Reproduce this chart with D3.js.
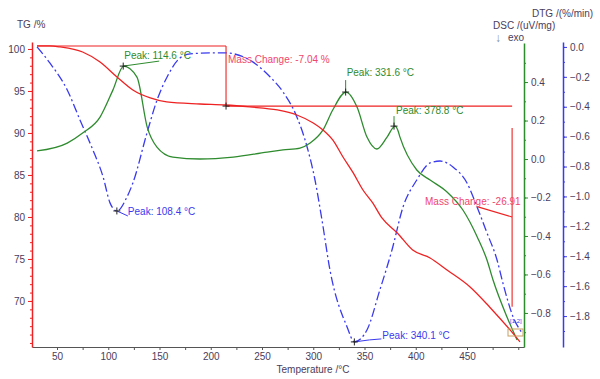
<!DOCTYPE html>
<html>
<head>
<meta charset="utf-8">
<script src="https://cdn.jsdelivr.net/npm/d3@7"></script>
<style>
  body { margin: 0; background: #fff; }
  svg { display: block; font-family: "Liberation Sans", Arial, sans-serif; }
</style>
</head>
<body>
<div id="chart"></div>
<script>
// temperature (°C) and values
const tgTemp = [30.5, 43, 53, 75, 92, 108.5, 124, 141, 157, 189.5, 214, 238, 265, 284, 300, 309.5, 319, 329, 339, 348.5, 358, 367, 382, 397, 414, 430.5, 453, 472, 492, 501.7];
const tgVal  = [100.36, 100.36, 100.24, 99.64, 98.45, 96.67, 95.12, 94.17, 93.69, 93.45, 93.33, 93.1, 92.74, 92.14, 91.19, 90.36, 89.17, 87.14, 85.24, 83.21, 81.67, 79.88, 78.1, 76.07, 75.12, 73.69, 71.67, 69.29, 66.55, 65.12];

const dscTemp = [30.5, 60, 75, 92, 104.5, 115, 128, 138, 147.5, 163, 189.5, 222, 255, 270.5, 287, 297, 309.5, 319, 332, 342.7, 352.4, 362, 372, 379.8, 382.5, 384.6, 401, 414, 430.5, 446, 460, 469.5, 475.4, 489, 498.8];
const dscVal  = [0.042, 0.083, 0.135, 0.218, 0.358, 0.483, 0.426, 0.166, 0.062, 0.01, 0.0, 0.01, 0.036, 0.047, 0.057, 0.083, 0.151, 0.255, 0.348, 0.27, 0.114, 0.052, 0.114, 0.171, 0.15, 0.114, -0.057, -0.109, -0.171, -0.265, -0.405, -0.525, -0.629, -0.821, -0.94];

const dtgTemp = [30.5, 43, 60, 72.4, 85, 95, 101.7, 108.4, 118.3, 124, 137.8, 147.6, 157.4, 170, 180, 199, 214, 241, 258, 270.5, 284, 294, 301.7, 308.5, 316.3, 333, 340.1, 352.4, 365, 376.8, 387.6, 401, 414, 423.7, 436.3, 450, 459.8, 469.5, 479.3, 485, 495, 503.7];
const dtgVal  = [0.0, -0.107, -0.288, -0.488, -0.689, -0.87, -1.043, -1.097, -1.003, -0.91, -0.575, -0.355, -0.201, -0.074, -0.047, -0.04, -0.04, -0.1, -0.201, -0.301, -0.468, -0.669, -0.89, -1.157, -1.492, -1.873, -1.973, -1.893, -1.625, -1.358, -1.07, -0.89, -0.776, -0.763, -0.803, -0.91, -1.07, -1.244, -1.425, -1.579, -1.806, -1.913];

const xTicks = [50, 100, 150, 200, 250, 300, 350, 400, 450];
const tgTicks = [70, 75, 80, 85, 90, 95, 100];
const dscTicks = [-0.8, -0.6, -0.4, -0.2, 0.0, 0.2, 0.4];
const dtgTicks = [-1.8, -1.6, -1.4, -1.2, -1.0, -0.8, -0.6, -0.4, -0.2, 0.0];

// peak annotations: label, temperature, which curve, value at marker
const peakText = ["Peak: 114.6 °C", "Peak: 108.4 °C", "Peak: 331.6 °C", "Peak: 378.8 °C", "Peak: 340.1 °C"];
const peakTemp = [114.6, 108.4, 331.6, 378.8, 340.1];
const peakCurve = ["dsc", "dtg", "dsc", "dsc", "dtg"];
const peakVal = [0.483, -1.097, 0.348, 0.171, -1.973];

const massText = ["Mass Change: -7.04 %", "Mass Change: -26.91"];

const W = 600, H = 379;
const red = "#ee2222", green = "#2e8b2e", blue = "#3a3aee", txt = "#4a3d5c", pink = "#f0466e";

const svg = d3.select("#chart").append("svg").attr("width", W).attr("height", H);

const x = d3.scaleLinear().domain([25.6, 505.6]).range([32, 524]);
const yTG = d3.scaleLinear().domain([64.52, 100.83]).range([347, 42]);
const yDSC = d3.scaleLinear().domain([-0.977, 0.603]).range([347, 43]);
const yDTG = d3.scaleLinear().domain([-2.007, 0.033]).range([347, 42]);
const yOf = {dsc: yDSC, dtg: yDTG};

function styleAxis(g, color) {
    g.select(".domain").attr("stroke", color).attr("stroke-width", 1.5);
    g.selectAll(".tick line").attr("stroke", color);
    g.selectAll(".tick text").attr("fill", txt).attr("font-size", 10);
}

// x axis
const gx = svg.append("g").attr("transform", "translate(0,347)")
    .call(d3.axisBottom(x).tickValues(d3.range(50, 501, 25)).tickSize(3).tickSizeOuter(0)
        .tickFormat(d => xTicks.includes(d) ? d : ""));
styleAxis(gx, "#555");
gx.select(".domain").attr("stroke-width", 1.2);
gx.selectAll(".tick text").attr("dy", "0.72em");

// TG axis (left)
svg.append("g").attr("transform", "translate(32,0)")
    .call(d3.axisLeft(yTG).tickValues(d3.range(65, 101, 1)).tickSize(2).tickFormat(""))
    .call(g => g.selectAll(".tick line").attr("stroke", red))
    .call(g => g.select(".domain").remove());
const gtg = svg.append("g").attr("transform", "translate(32,0)")
    .call(d3.axisLeft(yTG).tickValues(tgTicks).tickSize(4).tickSizeOuter(0));
styleAxis(gtg, red);

// DSC axis (right, green)
svg.append("g").attr("transform", "translate(524,0)")
    .call(d3.axisRight(yDSC).tickValues(d3.range(-9, 6).map(d => d / 10)).tickSize(2).tickFormat(""))
    .call(g => g.selectAll(".tick line").attr("stroke", green))
    .call(g => g.select(".domain").remove());
const gdsc = svg.append("g").attr("transform", "translate(524,0)")
    .call(d3.axisRight(yDSC).tickValues(dscTicks).tickSize(4).tickSizeOuter(0).tickFormat(d3.format(".1f")));
styleAxis(gdsc, green);

// DTG axis (right, blue)
svg.append("g").attr("transform", "translate(563,0)")
    .call(d3.axisRight(yDTG).tickValues(d3.range(-19, 1).map(d => d / 10)).tickSize(2).tickFormat(""))
    .call(g => g.selectAll(".tick line").attr("stroke", blue))
    .call(g => g.select(".domain").remove());
const gdtg = svg.append("g").attr("transform", "translate(563,0)")
    .call(d3.axisRight(yDTG).tickValues(dtgTicks).tickSize(4).tickSizeOuter(0).tickFormat(d3.format(".1f")));
styleAxis(gdtg, blue);

// axis titles
const title = (t, px, py, anchor) => svg.append("text").attr("x", px).attr("y", py)
    .attr("fill", txt).attr("font-size", 10).attr("text-anchor", anchor || "start").text(t);
title("TG /%", 17, 28);
title("DTG /(%/min)", 532, 17);
title("DSC /(uV/mg)", 493, 29);
title("exo", 508, 41);
svg.append("text").attr("x", 495).attr("y", 42).attr("fill", "#8090a8").attr("font-size", 12).text("↓");
title("Temperature /°C", 313, 373, "middle");

// curves
const lineTG = d3.line().x(d => x(d[0])).y(d => yTG(d[1])).curve(d3.curveMonotoneX);
const lineDSC = d3.line().x(d => x(d[0])).y(d => yDSC(d[1])).curve(d3.curveMonotoneX);
const lineDTG = d3.line().x(d => x(d[0])).y(d => yDTG(d[1])).curve(d3.curveMonotoneX);

svg.append("path").datum(d3.zip(dtgTemp, dtgVal)).attr("d", lineDTG)
    .attr("fill", "none").attr("stroke", blue).attr("stroke-width", 1.3).attr("stroke-dasharray", "9,3,2,3");
svg.append("path").datum(d3.zip(dscTemp, dscVal)).attr("d", lineDSC)
    .attr("fill", "none").attr("stroke", green).attr("stroke-width", 1.3);
svg.append("path").datum(d3.zip(tgTemp, tgVal)).attr("d", lineTG)
    .attr("fill", "none").attr("stroke", red).attr("stroke-width", 1.3);

// mass change annotations
const ann = svg.append("g").attr("stroke", red).attr("stroke-width", 1.1);
ann.append("line").attr("x1", x(30.5)).attr("x2", x(214.9)).attr("y1", yTG(100.36)).attr("y2", yTG(100.36));
ann.append("line").attr("x1", x(214.9)).attr("x2", x(214.9)).attr("y1", yTG(100.36)).attr("y2", yTG(93.2));
ann.append("line").attr("x1", x(214.9)).attr("x2", x(494)).attr("y1", yTG(93.2)).attr("y2", yTG(93.2));
ann.append("line").attr("x1", x(494)).attr("x2", x(494)).attr("y1", yTG(90.6)).attr("y2", yTG(69.3));
ann.append("line").attr("x1", x(460.7)).attr("x2", x(494)).attr("y1", yTG(81.2)).attr("y2", yTG(80.0));

svg.append("text").attr("x", x(214.9) + 2).attr("y", 63).attr("fill", pink).attr("font-size", 10).text(massText[0]);
svg.append("text").attr("x", 425).attr("y", 205).attr("fill", pink).attr("font-size", 10).text(massText[1]);

// markers
function plus(px, py) {
    svg.append("path").attr("d", `M${px - 3.5},${py}H${px + 3.5}M${px},${py - 3.5}V${py + 3.5}`)
        .attr("stroke", "#222").attr("stroke-width", 1);
}
plus(x(214.9), yTG(93.2));

// peak labels with leader lines (offsets in pixels from the marker)
const leadOff = [[[36, -5]], [[11, 5]], [[0, -12]], [[0, -10]], [[15, -2], [27, -3]]];
const textOff = [[1, -7], [11, 4], [1, -16], [2, -12], [28, -3]];
peakText.forEach((t, i) => {
    const px = x(peakTemp[i]), py = yOf[peakCurve[i]](peakVal[i]);
    const col = peakCurve[i] === "dsc" ? green : blue;
    const pts = [[px, py]].concat(leadOff[i].map(o => [px + o[0], py + o[1]]));
    svg.append("path").attr("d", d3.line()(pts)).attr("fill", "none").attr("stroke", col).attr("stroke-width", 1);
    svg.append("text").attr("x", px + textOff[i][0]).attr("y", py + textOff[i][1])
        .attr("fill", col).attr("font-size", 10).text(t);
    plus(px, py);
});

// small end-of-range tags
svg.append("text").attr("x", 510).attr("y", 323).attr("fill", blue).attr("font-size", 6).text("[1,2]");
svg.append("rect").attr("x", 508).attr("y", 329).attr("width", 15).attr("height", 7)
    .attr("fill", "none").attr("stroke", "#c8a060").attr("stroke-width", 1);
</script>
</body>
</html>
